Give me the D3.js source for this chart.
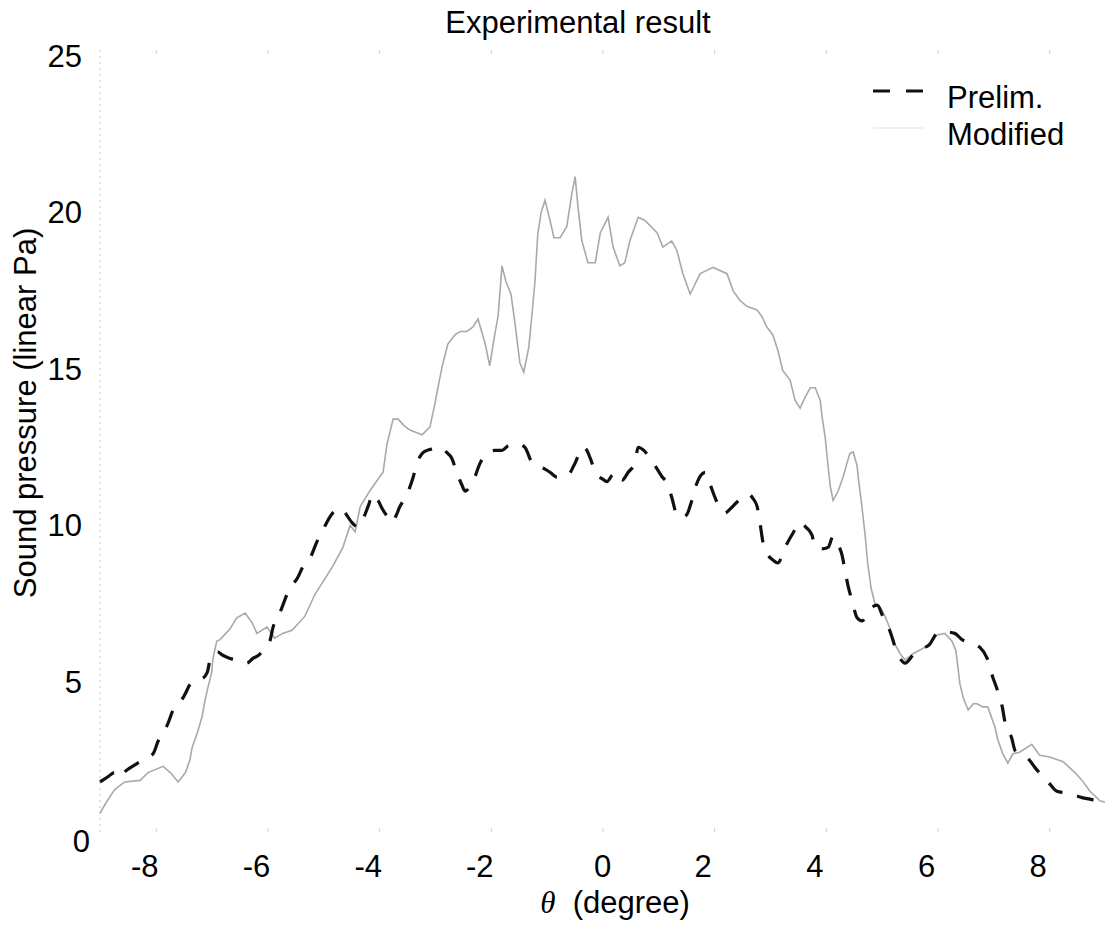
<!DOCTYPE html>
<html>
<head>
<meta charset="utf-8">
<script src="https://cdn.jsdelivr.net/npm/d3@7"></script>
<style>
    body { margin: 0; background: #fff; }
    text { font-family: "Liberation Sans", Arial, sans-serif; fill: #000; }
</style>
</head>
<body>
<script>
// Datos
var xTicks = [-8, -6, -4, -2, 0, 2, 4, 6, 8];
var yTicks = [0, 5, 10, 15, 20, 25];

var thetaModified = [
    -9.00, -8.87, -8.74, -8.56, -8.28, -8.14, -7.87, -7.74, -7.60, -7.47,
    -7.39, -7.35, -7.26, -7.17, -7.12, -7.07, -7.00, -6.98, -6.91, -6.85,
    -6.67, -6.55, -6.40, -6.28, -6.19, -6.01, -5.87, -5.73, -5.56, -5.33,
    -5.15, -4.97, -4.83, -4.65, -4.52, -4.43, -4.34, -4.17, -3.93, -3.86,
    -3.75, -3.66, -3.56, -3.45, -3.23, -3.09, -3.00, -2.97, -2.87, -2.77,
    -2.64, -2.55, -2.43, -2.32, -2.23, -2.10, -2.02, -1.94, -1.87, -1.80,
    -1.73, -1.64, -1.57, -1.48, -1.41, -1.32, -1.26, -1.21, -1.16, -1.10,
    -1.03, -0.94, -0.87, -0.76, -0.64, -0.55, -0.49, -0.44, -0.37, -0.26,
    -0.13, -0.04, 0.10, 0.19, 0.31, 0.40, 0.49, 0.64, 0.76, 0.98,
    1.08, 1.24, 1.33, 1.44, 1.57, 1.75, 1.98, 2.23, 2.34, 2.46,
    2.59, 2.76, 2.85, 2.94, 3.05, 3.14, 3.23, 3.36, 3.45, 3.54,
    3.63, 3.72, 3.81, 3.90, 3.93, 3.99, 4.04, 4.08, 4.13, 4.22,
    4.31, 4.38, 4.43, 4.49, 4.56, 4.59, 4.65, 4.70, 4.75, 4.81,
    4.88, 4.97, 5.06, 5.15, 5.24, 5.33, 5.42, 5.56, 5.72, 5.86,
    5.99, 6.13, 6.26, 6.33, 6.40, 6.46, 6.55, 6.64, 6.71, 6.81,
    6.90, 7.03, 7.08, 7.17, 7.26, 7.35, 7.47, 7.69, 7.83, 8.01,
    8.25, 8.46, 8.59, 8.73, 8.91, 9.00
];
var pressureModified = [
    0.6, 1.0, 1.35, 1.6, 1.65, 1.9, 2.1, 1.9, 1.6, 1.9,
    2.3, 2.7, 3.15, 3.7, 4.2, 4.6, 5.1, 5.5, 6.1, 6.15,
    6.5, 6.85, 7.0, 6.7, 6.35, 6.55, 6.2, 6.35, 6.45, 6.9,
    7.6, 8.1, 8.5, 9.1, 9.8, 9.6, 10.4, 10.9, 11.5, 12.4,
    13.2, 13.2, 13.0, 12.85, 12.7, 12.95, 13.7, 14.0, 14.9, 15.6,
    15.9, 16.0, 16.0, 16.15, 16.4, 15.6, 14.9, 15.8, 16.5, 18.1,
    17.6, 17.2, 16.3, 15.0, 14.7, 15.5, 16.6, 17.6, 19.1, 19.8,
    20.2, 19.55, 19.0, 19.0, 19.35, 20.4, 20.95, 20.0, 18.9, 18.2,
    18.2, 19.15, 19.65, 18.7, 18.1, 18.2, 18.9, 19.65, 19.55, 19.15,
    18.7, 18.9, 18.6, 17.85, 17.2, 17.85, 18.05, 17.85, 17.3, 17.0,
    16.8, 16.7, 16.5, 16.15, 15.9, 15.4, 14.75, 14.45, 13.8, 13.55,
    13.9, 14.2, 14.2, 13.8, 13.3, 12.6, 11.7, 11.05, 10.6, 10.9,
    11.35, 11.8, 12.1, 12.15, 11.7, 11.2, 10.35, 9.55, 8.6, 7.8,
    7.3, 7.2, 6.9, 6.5, 6.0, 5.7, 5.5, 5.7, 5.85, 6.0,
    6.3, 6.35, 6.1, 5.8, 4.75, 4.3, 3.9, 4.1, 4.1, 4.0,
    4.0, 3.35, 2.95, 2.5, 2.2, 2.5, 2.55, 2.8, 2.45, 2.4,
    2.25, 1.9, 1.65, 1.3, 1.0, 0.95
];

var thetaPrelim = [
    -9.00, -8.87, -8.74, -8.67, -8.54, -8.28, -8.05, -7.96, -7.87, -7.80,
    -7.69, -7.57, -7.51, -7.35, -7.17, -7.08, -7.03, -6.98, -6.89, -6.80,
    -6.67, -6.55, -6.37, -6.26, -6.13, -6.04, -5.96, -5.90, -5.78, -5.65,
    -5.60, -5.47, -5.36, -5.24, -5.11, -5.01, -4.83, -4.70, -4.61, -4.49,
    -4.38, -4.29, -4.20, -4.11, -4.02, -3.95, -3.86, -3.77, -3.70, -3.63,
    -3.50, -3.39, -3.32, -3.23, -3.14, -3.04, -2.91, -2.80, -2.70, -2.61,
    -2.52, -2.46, -2.39, -2.32, -2.19, -2.07, -1.93, -1.80, -1.69, -1.60,
    -1.50, -1.39, -1.26, -1.16, -1.03, -0.94, -0.82, -0.71, -0.62, -0.49,
    -0.35, -0.28, -0.22, -0.10, -0.01, 0.08, 0.17, 0.26, 0.35, 0.46,
    0.58, 0.64, 0.74, 0.85, 0.98, 1.07, 1.16, 1.24, 1.33, 1.42,
    1.51, 1.60, 1.69, 1.76, 1.84, 1.93, 2.05, 2.12, 2.19, 2.30,
    2.41, 2.52, 2.61, 2.70, 2.77, 2.82, 2.87, 2.95, 3.05, 3.14,
    3.27, 3.41, 3.54, 3.64, 3.75, 3.81, 3.93, 4.04, 4.13, 4.22,
    4.29, 4.34, 4.40, 4.47, 4.56, 4.65, 4.75, 4.84, 4.92, 5.02,
    5.11, 5.19, 5.26, 5.33, 5.42, 5.56, 5.72, 5.86, 5.99, 6.13,
    6.31, 6.44, 6.58, 6.76, 6.89, 6.99, 7.07, 7.16, 7.21, 7.33,
    7.39, 7.51, 7.62, 7.75, 7.87, 7.98, 8.14, 8.29, 8.41, 8.59,
    8.73, 8.86, 9.00
];
var pressurePrelim = [
    1.6, 1.75, 1.9, 1.75, 1.95, 2.25, 2.5, 2.9, 3.2, 3.4,
    3.9, 4.15, 4.3, 4.8, 4.9, 5.1, 5.5, 5.7, 5.75, 5.65,
    5.55, 5.5, 5.4, 5.55, 5.7, 5.95, 6.1, 6.55, 7.0, 7.6,
    7.8, 8.1, 8.5, 8.75, 9.3, 9.65, 10.2, 10.35, 10.2, 9.9,
    9.75, 10.0, 10.4, 10.8, 10.6, 10.35, 10.1, 9.9, 10.1, 10.4,
    10.8, 11.35, 11.8, 12.1, 12.2, 12.25, 12.3, 12.15, 11.95, 11.5,
    11.1, 10.9, 11.0, 11.2, 11.8, 12.1, 12.2, 12.2, 12.35, 12.4,
    12.4, 12.3, 11.8, 11.7, 11.6, 11.5, 11.35, 11.35, 11.4, 11.8,
    12.3, 12.2, 11.95, 11.4, 11.3, 11.2, 11.4, 11.5, 11.25, 11.5,
    11.8, 12.3, 12.2, 11.95, 11.6, 11.35, 11.15, 10.7, 10.15, 10.05,
    10.15, 10.6, 11.15, 11.4, 11.5, 11.1, 10.55, 10.35, 10.2, 10.35,
    10.55, 10.7, 10.8, 10.65, 10.4, 9.9, 9.3, 8.9, 8.7, 8.6,
    9.1, 9.55, 9.9, 9.75, 9.5, 9.1, 9.05, 9.1, 9.45, 9.2,
    8.85, 8.4, 7.85, 7.4, 6.85, 6.75, 7.0, 7.2, 7.25, 6.9,
    6.6, 6.2, 5.8, 5.55, 5.4, 5.65, 5.85, 6.0, 6.35, 6.4,
    6.35, 6.15, 6.05, 5.9, 5.55, 4.95, 4.55, 4.0, 3.5, 3.0,
    2.6, 2.45, 2.35, 2.05, 1.8, 1.6, 1.3, 1.25, 1.2, 1.1,
    1.05, 1.0, 0.9
];

var series = [
    { name: "Prelim.", theta: thetaPrelim, values: pressurePrelim },
    { name: "Modified", theta: thetaModified, values: pressureModified }
];
series.forEach((s) => {
    s.points = s.theta.map((t, i) => ({ t: t, v: s.values[i] }));
    console.log(s.name, s.theta.length, s.values.length);
});

// Tamaño y márgenes
var width = 1109;
var height = 931;
var margin = {top: 50, right: 3, bottom: 99, left: 100};

var svg = d3.select("body")
    .append("svg")
    .attr("width", width)
    .attr("height", height);

// Escalas
const x = d3.scaleLinear()
    .domain([-9, 9])
    .range([margin.left, width - margin.right - 1]);

const y = d3.scaleLinear()
    .domain([0, 25])
    .range([height - margin.bottom, margin.top]);

// Eje izquierdo casi borrado (como en el escaneo)
svg.append("line")
    .attr("x1", x(-9))
    .attr("x2", x(-9))
    .attr("y1", y(0))
    .attr("y2", y(25))
    .attr("stroke", "#c4c4c4")
    .attr("stroke-width", 1)
    .attr("stroke-dasharray", "2,4");

// Marcas de los ejes, muy tenues
var xAxisBottom = d3.axisBottom(x).tickValues(xTicks).tickSize(-4).tickFormat("");
svg.append("g")
    .attr("transform", `translate(0, ${y(0)})`)
    .call(xAxisBottom)
    .call(g => g.select(".domain").remove())
    .selectAll("line")
    .attr("stroke", "#d0d0d0");

var xAxisTop = d3.axisTop(x).tickValues(xTicks).tickSize(-4).tickFormat("");
svg.append("g")
    .attr("transform", `translate(0, ${y(25)})`)
    .call(xAxisTop)
    .call(g => g.select(".domain").remove())
    .selectAll("line")
    .attr("stroke", "#d0d0d0");

// Etiquetas del eje X
svg.append("g")
    .selectAll("text")
    .data(xTicks)
    .enter()
    .append("text")
    .attr("x", d => x(d) + (d === 0 ? 0 : -11))
    .attr("y", 877)
    .attr("text-anchor", "middle")
    .style("font-size", "31px")
    .text(d => d);

// Etiquetas del eje Y
svg.append("g")
    .selectAll("text")
    .data(yTicks)
    .enter()
    .append("text")
    .attr("x", d => d === 0 ? 90 : 82)
    .attr("y", d => y(d) + (d === 0 ? 20 : 17))
    .attr("text-anchor", "end")
    .style("font-size", "31px")
    .text(d => d);

// Curvas
const line = d3.line()
    .x(d => x(d.t))
    .y(d => y(d.v));

svg.append("path")
    .datum(series[1].points)
    .attr("fill", "none")
    .attr("stroke", "#a9a9a9")
    .attr("stroke-width", 1.6)
    .attr("d", line);

svg.append("path")
    .datum(series[0].points)
    .attr("fill", "none")
    .attr("stroke", "#111")
    .attr("stroke-width", 3.2)
    .attr("stroke-dasharray", "17,15")
    .attr("d", line.curve(d3.curveMonotoneX));

// Título
svg.append("text")
    .attr("x", 578)
    .attr("y", 33)
    .attr("text-anchor", "middle")
    .style("font-size", "31px")
    .text("Experimental result");

// Título del eje X
var xLabel = svg.append("text")
    .attr("x", 615)
    .attr("y", 913)
    .attr("text-anchor", "middle")
    .style("font-size", "31px");
xLabel.append("tspan")
    .style("font-family", "'Liberation Serif', 'DejaVu Serif', serif")
    .style("font-style", "italic")
    .text("θ");
xLabel.append("tspan")
    .attr("xml:space", "preserve")
    .style("white-space", "pre")
    .text("  (degree)");

// Título del eje Y
svg.append("text")
    .attr("transform", "rotate(-90)")
    .attr("x", -413)
    .attr("y", 36)
    .attr("text-anchor", "middle")
    .style("font-size", "31px")
    .text("Sound pressure (linear Pa)");

// Leyenda
const legend = svg.append("g")
    .attr("transform", "translate(873, 0)");

legend.append("line")
    .attr("x1", 0).attr("x2", 50)
    .attr("y1", 91).attr("y2", 91)
    .attr("stroke", "#111")
    .attr("stroke-width", 3)
    .attr("stroke-dasharray", "17,16");

legend.append("line")
    .attr("x1", 0).attr("x2", 50)
    .attr("y1", 128).attr("y2", 128)
    .attr("stroke", "#e2e2e2")
    .attr("stroke-width", 1.2);

legend.selectAll("text.legend")
    .data(series)
    .enter()
    .append("text")
    .attr("class", "legend")
    .attr("x", 74)
    .attr("y", (d, i) => 108 + i * 37)
    .style("font-size", "31px")
    .text(d => d.name);
</script>
</body>
</html>
